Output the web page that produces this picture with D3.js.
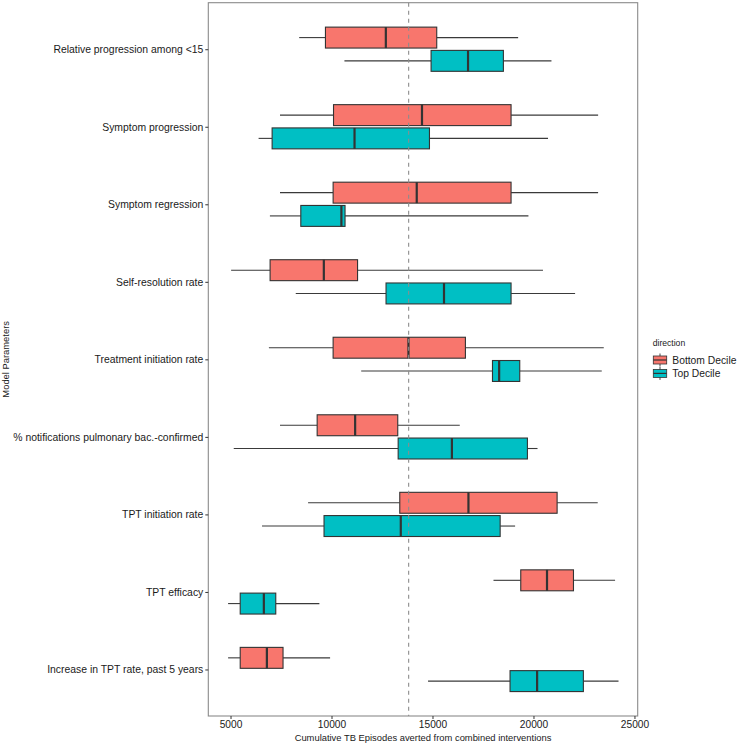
<!DOCTYPE html>
<html><head><meta charset="utf-8">
<script src="https://cdn.jsdelivr.net/npm/d3@7"></script>
<style>body{margin:0;background:#fff;} text{font-family:"Liberation Sans",Arial,sans-serif;}</style>
</head><body><svg id="c" width="740" height="745"></svg>
<script>
const categories = ["Relative progression among <15","Symptom progression","Symptom regression","Self-resolution rate","Treatment initiation rate","% notifications pulmonary bac.-confirmed","TPT initiation rate","TPT efficacy","Increase in TPT rate, past 5 years"];
const directions = ["Bottom Decile","Top Decile"];
const colors = ["#F8766D","#00BFC4"];
// Bottom Decile
const bottomLow = [8400,7450,7450,5030,6900,7450,8840,18020,4880];
const bottomQ1 = [9700,10100,10080,6960,10080,9290,13380,19370,5480];
const bottomMed = [12690,14480,14220,9620,13810,11170,16780,20670,6800];
const bottomQ3 = [15210,18890,18890,11290,16630,13280,21170,21980,7600];
const bottomHigh = [19240,23200,23200,20470,23480,16350,23180,24040,9930];
// Top Decile
const topLow = [10640,6390,6950,8230,11470,5160,6560,4880,14780];
const topQ1 = [14930,7060,8480,12700,17970,13300,9630,5480,18840];
const topMed = [16760,11140,10490,15570,18300,15960,13430,6650,20180];
const topQ3 = [18510,14850,10670,18890,19320,19700,18350,7240,22470];
const topHigh = [20890,20720,19750,22060,23380,20200,19090,9400,24210];
const xTicks = [5000,10000,15000,20000,25000];
const refLine = 13820;

const svg = d3.select("#c");
const L=208.3, R=637.7, T=2.7, B=716;
const x = d3.scaleLinear().domain([3900,25160]).range([L,R]);
const y = d3.scalePoint().domain(categories).range([T,B]).padding(0.6);
const step = y.step();

svg.append("rect").attr("x",L).attr("y",T).attr("width",R-L).attr("height",B-T)
  .attr("fill","#fff");

const series = [
  {dir:0, low:bottomLow,q1:bottomQ1,med:bottomMed,q3:bottomQ3,high:bottomHigh, off:-0.15},
  {dir:1, low:topLow,q1:topQ1,med:topMed,q3:topQ3,high:topHigh, off:0.15}
];
const bh = 0.27*step;
series.forEach(s=>{
  const g = svg.append("g");
  categories.forEach((c,i)=>{
    const cy = y(c)+s.off*step;
    g.append("line").attr("x1",x(s.low[i])).attr("x2",x(s.q1[i])).attr("y1",cy).attr("y2",cy)
      .attr("stroke","#3a3a3a").attr("stroke-width",1.1);
    g.append("line").attr("x1",x(s.q3[i])).attr("x2",x(s.high[i])).attr("y1",cy).attr("y2",cy)
      .attr("stroke","#3a3a3a").attr("stroke-width",1.1);
    g.append("rect").attr("x",x(s.q1[i])).attr("y",cy-bh/2).attr("width",x(s.q3[i])-x(s.q1[i])).attr("height",bh)
      .attr("fill",colors[s.dir]).attr("stroke","#333").attr("stroke-width",1.1);
    g.append("line").attr("x1",x(s.med[i])).attr("x2",x(s.med[i])).attr("y1",cy-bh/2).attr("y2",cy+bh/2)
      .attr("stroke","#333").attr("stroke-width",2.2);
  });
});

svg.append("line").attr("x1",x(refLine)).attr("x2",x(refLine)).attr("y1",T).attr("y2",B)
  .attr("stroke","#8c8c8c").attr("stroke-width",1.1).attr("stroke-dasharray","4,4");

svg.append("rect").attr("x",L).attr("y",T).attr("width",R-L).attr("height",B-T)
  .attr("fill","none").attr("stroke","#8a8a8a").attr("stroke-width",1.1);

// axes
const xa = svg.append("g").attr("transform",`translate(0,${B})`)
  .call(d3.axisBottom(x).tickValues(xTicks).tickFormat(d3.format("d")).tickSize(3).tickPadding(2));
xa.select(".domain").remove();
xa.selectAll("line").attr("stroke","#333");
xa.selectAll("text").attr("fill","#1a1a1a").style("font-size","10.2px").style("font-family","Liberation Sans, Arial, sans-serif");

const ya = svg.append("g").attr("transform",`translate(${L},0)`)
  .call(d3.axisLeft(y).tickSize(3).tickPadding(2));
ya.select(".domain").remove();
ya.selectAll("line").attr("stroke","#333");
ya.selectAll("text").attr("fill","#1a1a1a").style("font-size","10.4px").style("font-family","Liberation Sans, Arial, sans-serif");

svg.append("text").attr("x",(L+R)/2).attr("y",741).attr("text-anchor","middle")
  .style("font-size","9.4px").attr("fill","#1a1a1a").text("Cumulative TB Episodes averted from combined interventions");
svg.append("text").attr("transform",`translate(9,${(T+B)/2}) rotate(-90)`).attr("text-anchor","middle")
  .style("font-size","9.4px").attr("fill","#1a1a1a").text("Model Parameters");

// legend
const lg = svg.append("g");
lg.append("text").attr("x",652.7).attr("y",346).style("font-size","8.6px").attr("fill","#1a1a1a").text("direction");
directions.forEach((d,i)=>{
  const cy = 360 + i*13.4;
  const kx = 653.3, kw = 13.4;
  lg.append("line").attr("x1",kx+kw/2).attr("x2",kx+kw/2).attr("y1",cy-6.5).attr("y2",cy+6.5)
    .attr("stroke","#333").attr("stroke-width",0.9);
  lg.append("rect").attr("x",kx).attr("y",cy-4).attr("width",kw).attr("height",8)
    .attr("fill",colors[i]).attr("stroke","#333").attr("stroke-width",0.8);
  lg.append("line").attr("x1",kx).attr("x2",kx+kw).attr("y1",cy).attr("y2",cy)
    .attr("stroke","#333").attr("stroke-width",1.2);
  lg.append("text").attr("x",672.3).attr("y",cy+3.6).style("font-size","10.3px").attr("fill","#1a1a1a").text(d);
});
</script></body></html>
